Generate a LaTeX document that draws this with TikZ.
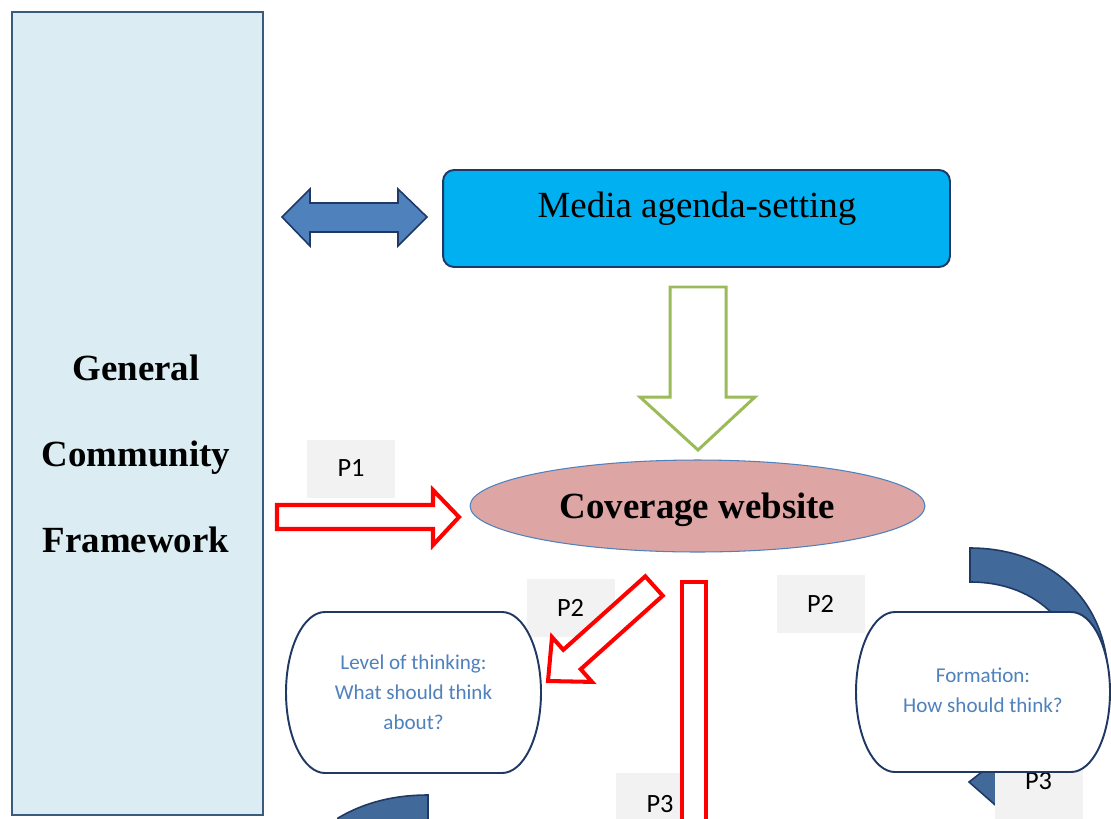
\documentclass[tikz,border=0pt]{standalone}
\usepackage{fontspec}
\setmainfont{Liberation Serif}
\newfontfamily\calibri{Carlito}
\usetikzlibrary{shapes.geometric}

\definecolor{framefill}{RGB}{219,237,243}
\definecolor{frameline}{RGB}{59,91,126}
\definecolor{mediafill}{RGB}{0,176,240}
\definecolor{medialine}{RGB}{31,56,100}
\definecolor{sitefill}{RGB}{221,166,165}
\definecolor{steelblue}{RGB}{79,129,189}
\definecolor{darkblue}{RGB}{65,105,154}
\definecolor{navy}{RGB}{31,56,100}
\definecolor{leafgreen}{RGB}{155,187,89}
\definecolor{labelgray}{RGB}{242,242,242}

\tikzset{
  framebox/.style={draw=frameline, fill=framefill, line width=1.1pt, minimum width=5.02cm, minimum height=16.06cm},
  frametext/.style={align=center, font=\fontsize{21}{48.8}\selectfont\bfseries},
  mediabox/.style={draw=medialine, fill=mediafill, line width=1.1pt, rounded corners=0.22cm, minimum width=10.14cm, minimum height=1.94cm},
  sitenode/.style={ellipse, draw=steelblue, fill=sitefill, line width=0.6pt, minimum width=9.1cm, minimum height=1.84cm, inner sep=0pt, text height=0.67cm, font=\fontsize{21}{25}\selectfont\bfseries},
  pbox/.style={fill=labelgray, minimum width=1.76cm, minimum height=1.16cm, font=\calibri\fontsize{15}{18}\selectfont},
  thinkshape/.style={draw=navy, fill=white, line width=1.1pt},
  thinktext/.style={align=center, text=steelblue, font=\calibri\fontsize{12}{17}\selectfont},
  redarrow/.style={draw=red, fill=white, line width=2.3pt},
  greenarrow/.style={draw=leafgreen, fill=white, line width=1.7pt},
  bluearrow/.style={draw=navy, fill=steelblue, line width=0.9pt},
  curvearrow/.style={draw=navy, fill=darkblue, line width=0.9pt}
}

\begin{document}
\begin{tikzpicture}[x=0.02cm, y=-0.02cm]
\useasboundingbox (0,0) rectangle (1111,818);
\clip (0,0) rectangle (1111,818);

% community frame
\node[framebox] (framework) at (137.5,413.5) {};
\node[frametext] (frameworktext) at (136,454) {General\\Community\\Framework};

\draw[bluearrow] (282,217) -- (310,189) -- (310,203) -- (398,203) -- (398,189) -- (427,217) -- (398,246) -- (398,232) -- (310,232) -- (310,246) -- cycle;

% media
\node[mediabox] (media) at (696.5,218.5) {};
\node[font=\fontsize{21}{25}\selectfont] (mediatext) at (697,209) {Media agenda-setting};

\draw[greenarrow] (670,287) -- (726,287) -- (726,397) -- (755,397) -- (698,450) -- (640,397) -- (670,397) -- cycle;

% P1
\node[pbox] (p1) at (351,468.5) {P1};
\draw[redarrow] (277,505) -- (433,505) -- (433,490) -- (459,517) -- (433,545) -- (433,529) -- (277,529) -- cycle;

\node[sitenode] (site) at (697.5,506) {Coverage website};

% curved arrows
\draw[curvearrow] (970,548) .. controls (1050,548) and (1108,600) .. (1108,680) .. controls (1108,745) and (1070,801) .. (1010,801) -- (1010,818) -- (969,782) -- (1010,750) -- (1010,769) .. controls (1055,769) and (1082,730) .. (1082,690) .. controls (1082,630) and (1040,582) .. (970,582) -- cycle;
\draw[curvearrow] (428,795) .. controls (395,795) and (365,802) .. (338,818) -- (338,830) -- (428,830) -- cycle;

% P2
\node[pbox] (p2left) at (570.5,607.5) {P2};
\node[pbox] (p2right) at (820.5,603.5) {P2};
\draw[redarrow] (662.7,595.7) -- (580.7,669.2) -- (592,681.9) -- (548,681) -- (552,637.1) -- (563.3,649.8) -- (645.3,576.3) -- cycle;

\draw[thinkshape] (325,612) -- (502,612) arc[start angle=-90, end angle=90, x radius=39, y radius=80.5] -- (325,773) arc[start angle=90, end angle=270, x radius=39, y radius=80.5] -- cycle;
\node[thinktext] (level) at (413.5,692.5) {Level of thinking:\\What should think\\about?};

% P3
\node[pbox, minimum height=1.24cm] (p3mid) at (660,804) {P3};
\node[pbox, minimum height=1.52cm] (p3right) at (1038.5,781) {P3};
\draw[redarrow] (682,582) -- (706,582) -- (706,840) -- (682,840) -- cycle;

\draw[thinkshape] (895,612) -- (1071,612) arc[start angle=-90, end angle=90, x radius=39, y radius=80] -- (895,772) arc[start angle=90, end angle=270, x radius=39, y radius=80] -- cycle;
\node[thinktext] (formation) at (983,690) {Formation:\\How should think?};

\end{tikzpicture}
\end{document}
